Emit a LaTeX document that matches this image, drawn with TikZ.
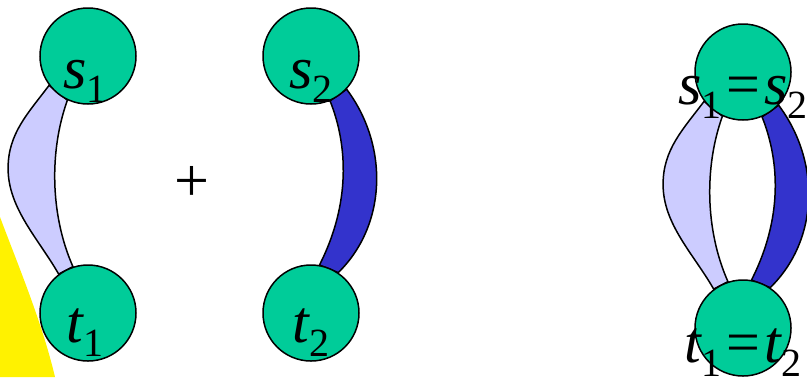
\documentclass[tikz,border=0pt]{standalone}
\usepackage{fontspec}
\setmainfont{Liberation Serif}
\usetikzlibrary{backgrounds}

\definecolor{vertgreen}{RGB}{0,204,153}
\definecolor{bandlight}{RGB}{204,204,255}
\definecolor{banddark}{RGB}{51,51,204}

\newcommand{\vname}[2]{{\itshape #1}\raisebox{-7pt}{\fontsize{20}{20}\selectfont #2}}

\tikzset{
  vert/.style={circle, draw, line width=0.75pt, fill=vertgreen, minimum size=48pt, inner sep=0pt},
  vlabel/.style={anchor=base, yshift=-12.5pt, inner sep=0pt, font=\fontsize{30}{32}\selectfont},
  lightband/.style={draw, line width=0.75pt, fill=bandlight},
  darkband/.style={draw, line width=0.75pt, fill=banddark},
}

\begin{document}
\begin{tikzpicture}[x=0.5pt, y=-0.5pt]

% Parameters
\def\colA{88}      % left pair
\def\colB{311}     % middle pair
\def\colC{743}     % merged pair

\useasboundingbox (0,0) rectangle (807,377);

% Vertices
\node[vert, label={[vlabel, xshift=-1.5pt]center:\vname{s}{1}}] (s1) at (\colA,56) {};
\node[vert, label={[vlabel, xshift=-1.5pt, yshift=2.5pt]center:\vname{t}{1}}] (t1) at (\colA,313) {};
\node[vert, label={[vlabel]center:\vname{s}{2}}] (s2) at (\colB,56) {};
\node[vert, label={[vlabel, yshift=2.5pt]center:\vname{t}{2}}] (t2) at (\colB,313) {};
\node[vert, label={[vlabel]center:\vname{s}{1}\kern2.5pt=\kern2pt\vname{s}{2}}] (s12) at (\colC,72) {};
\node[vert, label={[vlabel]center:\vname{t}{1}\kern2.5pt=\kern2pt\vname{t}{2}}] (t12) at (\colC,328) {};

\node[font=\fontsize{31}{32}\selectfont, inner sep=0pt] (plus) at (192,184) {+};

\begin{scope}[on background layer]
    % Yellow corner
    \fill[yellow] (0,217) .. controls (18,265) and (42,322) .. (55,377) -- (0,377) -- cycle;

    % Light paths (left side)
    \foreach \src/\dst in {s1/t1, s12/t12} {
        \draw[lightband] (\src.217) .. controls +(-21,28) and +(0,-35) .. ++(-41,83)
            .. controls +(0,40) and +(-20,-35) .. (\dst.127)
            -- (\dst.108) .. controls +(-23,-52) and +(-18,50) .. (\src.245) -- cycle;
    }

    % Dark paths (right side)
    \foreach \src/\dst in {s2/t2, s12/t12} {
        \draw[darkband] (\src.293) .. controls +(18,45) and +(31,-61) .. (\dst.80)
            -- (\dst.56) .. controls +(49,-48) and +(42,56) .. (\src.317) -- cycle;
    }
\end{scope}

\end{tikzpicture}
\end{document}
